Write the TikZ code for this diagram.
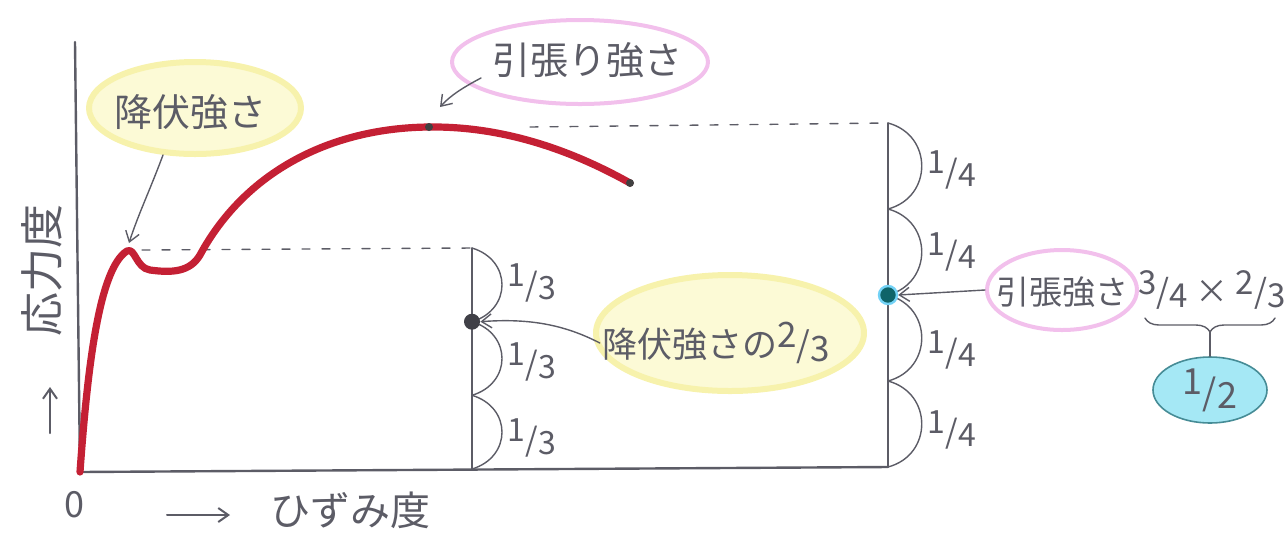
\documentclass[tikz,border=0pt]{standalone}
\usepackage{fontspec}
\setmainfont{Noto Sans CJK JP}
\usetikzlibrary{arrows.meta,shapes.geometric,decorations.pathreplacing}
\definecolor{ink}{RGB}{92,92,102}
\definecolor{curvered}{RGB}{196,32,52}
\definecolor{ylfill}{RGB}{252,250,214}
\definecolor{yledge}{RGB}{247,242,172}
\definecolor{pkedge}{RGB}{242,192,236}
\definecolor{cyfill}{RGB}{165,232,245}
\definecolor{cyedge}{RGB}{70,140,150}
\definecolor{tealdot}{RGB}{15,100,105}
\newcommand\hfr[2]{\raisebox{.3em}{#1}/\raisebox{-.1em}{#2}}
\begin{document}
\begin{tikzpicture}[x=0.5pt,y=-0.5pt,line cap=round,line join=round,
  fs/.style={font=\fontsize{#1}{#1}\selectfont},
  lbl/.style={text=ink,inner sep=1pt},
  axis/.style={draw=ink,line width=1.2pt},
  thinline/.style={draw=ink,line width=0.7pt},
  dashline/.style={draw=ink,line width=0.7pt,dash pattern=on 4pt off 6pt},
  arr/.style={draw=ink,line width=0.7pt,-{Straight Barb[length=5pt,width=7pt]}},
  redcurve/.style={draw=curvered,line width=3.6pt},
  yblob/.style={ellipse,fill=ylfill,draw=yledge,line width=3pt,inner sep=0pt},
  pblob/.style={ellipse,fill=white,draw=pkedge,line width=2pt,inner sep=0pt},
  cblob/.style={ellipse,fill=cyfill,draw=cyedge,line width=0.8pt,inner sep=0pt},
  bigdot/.style={circle,fill=ink!70!black,inner sep=0pt,minimum size=8pt},
  smalldot/.style={circle,fill=black!75,inner sep=0pt,minimum size=4pt},
  tdot/.style={circle,fill=tealdot,draw=cyan!55,line width=1.2pt,inner sep=0pt,minimum size=9pt},
  bracestyle/.style={draw=ink,line width=0.7pt,decorate,decoration={brace,mirror,amplitude=7pt}}]
\useasboundingbox (0,0) rectangle (1287,543);

% background blobs
\node[yblob,minimum width=106pt,minimum height=46pt] (ysbg) at (195,108) {};
\node[pblob,minimum width=128pt,minimum height=42pt] (tsbg) at (580,62) {};
\node[yblob,minimum width=134pt,minimum height=58pt] (ys23bg) at (730,333) {};
\node[pblob,minimum width=75pt,minimum height=40pt] (ts2bg) at (1062,290) {};
\node[cblob,minimum width=57pt,minimum height=33pt] (halfbg) at (1210,390) {};

% key points
\coordinate (O) at (80,472);
\coordinate (ytop) at (75,42);
\coordinate (xend) at (888,467);
\coordinate (Y) at (127,251);
\coordinate (T) at (429,127);
\coordinate (E) at (630,183);
\coordinate (A) at (472,248);
\coordinate (A0) at (472,469);
\coordinate (B) at (888,123);
\coordinate (B0) at (888,467);
\coordinate (Yd) at (142,250);
\coordinate (Td) at (530,127);

% axes and guide lines
\draw[axis] (ytop) -- (O) -- (xend);
\draw[dashline] (Yd) -- (A);
\draw[dashline] (Td) -- (B);
\draw[thinline] (A) -- (A0);
\draw[thinline] (B) -- (B0);

% brackets
\foreach \a/\b in {248/321.7,321.7/395.3,395.3/469}
  \draw[thinline] (472,\a) .. controls (512,\a+12) and (512,\b-12) .. (472,\b);
\foreach \a/\b in {123/209,209/295,295/381,381/467}
  \draw[thinline] (888,\a) .. controls (933,\a+12) and (933,\b-12) .. (888,\b);

% stress-strain curve
\draw[redcurve] (O) .. controls (88,360) and (100,268) .. (Y)
  .. controls (135,247) and (136,268) .. (150,270)
  .. controls (172,273) and (190,272) .. (200,255)
  .. controls (245,172) and (330,128) .. (T)
  .. controls (510,126) and (580,155) .. (E);

% dots
\node[smalldot] (Tdot) at (T) {};
\node[smalldot] (Edot) at (E) {};
\node[bigdot] (d23) at (472,321.7) {};
\node[tdot] (dts) at (888,295) {};

% labels
\node[lbl,fs=19pt] (ys) at (190,112) {降伏強さ};
\node[lbl,fs=19pt] (ts) at (587,60) {引張り強さ};
\node[lbl,fs=17.5pt] (ys23) at (716,343) {降伏強さの\hfr{2}{3}};
\node[lbl,fs=16.5pt] (ts2) at (1062,292) {引張強さ};
\node[lbl,fs=16.5pt] (frac) at (1212,290) {\hfr{3}{4} × \hfr{2}{3}};
\node[lbl,fs=18pt] (half) at (halfbg) {\hfr{1}{2}};
\node[lbl,fs=22pt,rotate=90] (stress) at (42,270) {応力度};
\node[lbl,fs=18pt] (zero) at (74,505) {0};
\node[lbl,fs=20pt] (strain) at (350,510) {ひずみ度};

\foreach \t/\y in {1/283,2/362,3/438}
  \node[lbl,fs=16pt] (third\t) at (532,\y) {\hfr{1}{3}};
\foreach \t/\y in {1/170,2/252,3/350,4/430}
  \node[lbl,fs=16pt] (quarter\t) at (952,\y) {\hfr{1}{4}};

% arrows
\coordinate (ysA) at (163,155);
\coordinate (Ytip) at (129,243);
\draw[arr] (ysA) .. controls (150,190) and (138,215) .. (Ytip);
\coordinate (tsA) at (481,78);
\coordinate (tsTip) at (440,107);
\draw[arr] (tsA) .. controls (462,88) and (450,96) .. (tsTip);
\draw[arr] (ys23.west) .. controls (565,325) and (530,318) .. (d23.east);
\draw[arr] (ts2bg.west) -- (dts.east);
\coordinate (upA) at (50,433);
\coordinate (upB) at (50,387);
\draw[arr,line width=1pt] (upA) -- (upB);
\coordinate (rA) at (167,515);
\coordinate (rB) at (230,515);
\draw[arr,line width=1pt] (rA) -- (rB);

% brace
\coordinate (brL) at (1145,318);
\coordinate (brR) at (1275,318);
\draw[bracestyle] (brL) -- (brR);
\coordinate (braceTip) at (1210,332);
\draw[thinline] (braceTip) -- (halfbg.north);
\end{tikzpicture}
\end{document}
